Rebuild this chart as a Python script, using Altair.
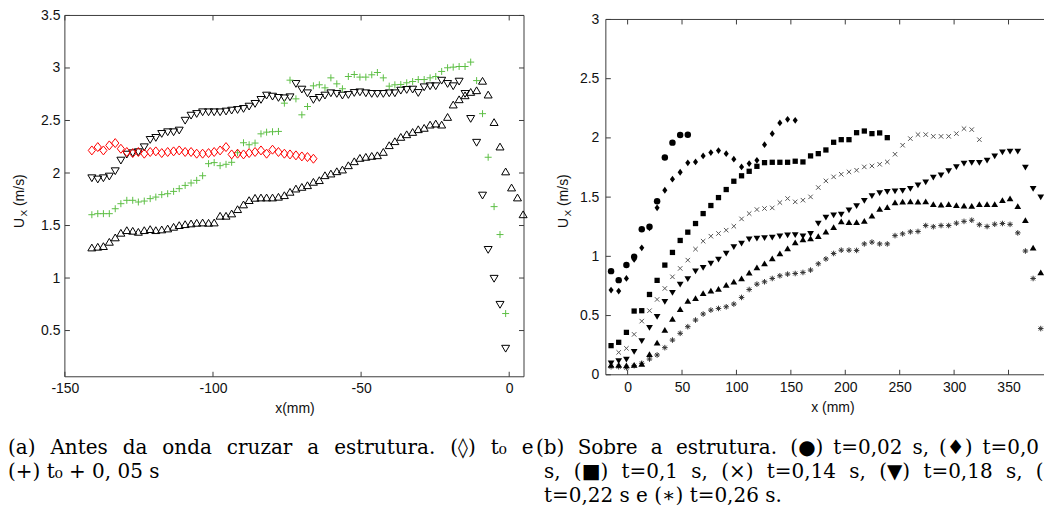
import altair as alt
import pandas as pd

# ---------------- panel (a): before the wave crosses the structure ----------------
X_A = [-140.9, -138.9, -137.0, -135.0, -133.0, -131.1, -129.1, -127.1, -125.2, -123.2,
       -121.2, -119.3, -117.3, -115.3, -113.3, -111.4, -109.4, -107.4, -105.5, -103.5,
       -101.5, -99.6, -97.6, -95.6, -93.7, -91.7, -89.7, -87.8, -85.8, -83.8,
       -81.9, -79.9, -77.9, -75.9, -74.0, -72.0, -70.0, -68.1, -66.1, -64.1,
       -62.2, -60.2, -58.2, -56.3, -54.3, -52.3, -50.4, -48.4, -46.4, -44.5,
       -42.5, -40.5, -38.6, -36.6, -34.6, -32.6, -30.7, -28.7, -26.7, -24.8,
       -22.8, -20.8, -18.9, -16.9, -14.9, -13.0, -11.0, -9.0, -7.1, -5.1,
       -3.1, -1.2, 0.8, 2.8, 4.7]

# (diamond) t0
A_T0 = [2.215, 2.247, 2.215, 2.263, 2.285, 2.231, 2.2, 2.19, 2.2, 2.184,
        2.2, 2.206, 2.19, 2.2, 2.206, 2.215, 2.2, 2.2, 2.184, 2.184,
        2.19, 2.2, 2.215, 2.247, 2.177, 2.184, 2.177, 2.19, 2.2, 2.215,
        2.184, 2.222, 2.2, 2.184, 2.177, 2.168, 2.158, 2.152, 2.136]

# (+) t0 + 0,05 s
A_T0_05 = [1.603, 1.613, 1.613, 1.613, 1.66, 1.708, 1.74, 1.74, 1.724, 1.733,
           1.756, 1.771, 1.794, 1.803, 1.825, 1.851, 1.882, 1.905, 1.93, 1.974,
           2.089, 2.099, 2.07, 2.083, 2.102, 2.193, 2.288, 2.269, 2.285, 2.373,
           2.389, 2.393, 2.396,
           2.665, 2.884, 2.706, 2.554, 2.633, 2.83, 2.84, 2.811, 2.906, 2.849,
           2.802, 2.919, 2.938, 2.913, 2.913, 2.935, 2.957, 2.906, 2.827, 2.84,
           2.843, 2.859, 2.871, 2.89, 2.89, 2.906, 2.919, 2.967, 3.002, 3.008,
           3.014, 3.014, 3.056,
           2.88, 2.565, 2.15, 1.68, 1.414, 0.662]

# open down-triangles
A_DOWN = [1.952, 1.94, 1.952, 1.968, 2.019, 2.12, 2.177, 2.19, 2.2, 2.247,
          2.317, 2.336, 2.374, 2.39, 2.39, 2.406, 2.5, 2.548, 2.564, 2.58,
          2.58, 2.58, 2.58, 2.587, 2.596, 2.602, 2.612, 2.634, 2.66, 2.698,
          2.739, 2.729, 2.717, 2.713, 2.723, 2.85, 2.796, 2.761, 2.698, 2.717,
          2.739, 2.761, 2.755, 2.739, 2.745, 2.764, 2.77, 2.761, 2.755, 2.755,
          2.755, 2.761, 2.761, 2.786, 2.793, 2.796, 2.764, 2.818, 2.828, 2.828,
          2.881, 2.85, 2.828, 2.872, 2.755,
          2.517, 2.29, 1.787, 1.27, 0.995, 0.747, 0.329]

# open up-triangles
A_UP = [1.289, 1.296, 1.302, 1.343, 1.385, 1.429, 1.454, 1.448, 1.438, 1.454,
        1.464, 1.454, 1.461, 1.47, 1.486, 1.502, 1.511, 1.518, 1.524, 1.527,
        1.524, 1.527, 1.591, 1.591, 1.613, 1.654, 1.699, 1.74, 1.762, 1.765,
        1.765, 1.765, 1.772,
        1.787, 1.819, 1.85, 1.866, 1.882, 1.914, 1.93, 1.977, 1.993, 2.015,
        2.031, 2.072, 2.11, 2.142, 2.152, 2.161, 2.167, 2.199, 2.263, 2.301,
        2.342, 2.367, 2.389, 2.415, 2.428, 2.459, 2.469, 2.459, 2.532, 2.65,
        2.7, 2.738, 2.77, 2.786,
        2.876, 2.745, 2.483, 2.25, 2.013, 1.86, 1.765, 1.605]

# ---------------- panel (b): over the structure ----------------
X_B = [-15.2, -8.2, -1.1, 6.0, 13.0, 20.1, 27.1, 34.2, 41.2, 48.3,
       55.3, 62.4, 69.4, 76.5, 83.5, 90.6, 97.6, 104.7, 111.7, 118.8,
       125.8, 132.9, 139.9, 147.0, 154.0, 161.1, 168.1, 175.2, 182.2, 189.3,
       196.3, 203.4, 210.4, 217.5, 224.5, 231.6, 238.6, 245.7, 252.7, 259.8,
       266.8, 273.9, 280.9, 288.0, 295.0, 302.1, 309.1, 316.2, 323.2, 330.3,
       337.3, 344.4, 351.4, 358.5, 365.5, 372.6, 379.6]

B_002 = [0.875, 0.799, 0.926, 0.996, 1.229, 1.249, 1.465, 1.834, 1.960, 2.025, 2.027]
B_006 = [0.715, 0.707, 0.813, 0.974, 1.072, 1.24, 1.41, 1.558, 1.651, 1.71,
         1.79, 1.797, 1.848, 1.876, 1.893, 1.867, 1.82, 1.755, 1.783, 1.811,
         1.943, 2.036, 2.126, 2.157, 2.148]
B_010 = [0.246, 0.274, 0.358, 0.538, 0.541, 0.678, 0.797, 0.926, 1.033, 1.134,
         1.204, 1.277, 1.361, 1.429, 1.496, 1.564, 1.634, 1.68, 1.718, 1.76,
         1.791, 1.794, 1.794, 1.794, 1.803, 1.797, 1.848, 1.867, 1.898, 1.963,
         1.985, 1.985, 2.044, 2.058, 2.036, 2.042, 2.002]
B_014 = [0.189, 0.223, 0.341, 0.453, 0.541, 0.636, 0.729, 0.827, 0.898, 0.968,
         1.061, 1.128, 1.170, 1.193, 1.221, 1.254, 1.316, 1.361, 1.395, 1.404,
         1.409, 1.454, 1.488, 1.460, 1.474, 1.502, 1.581, 1.637, 1.671, 1.693,
         1.713, 1.727, 1.755, 1.763, 1.777, 1.797, 1.862, 1.938, 1.994, 2.028,
         2.028, 2.013, 2.013, 2.013, 2.036, 2.078, 2.07, 1.985]
B_018 = [0.097, 0.116, 0.130, 0.195, 0.285, 0.397, 0.49, 0.617, 0.692, 0.763,
         0.808, 0.875, 0.903, 0.94, 0.974, 1.024, 1.08, 1.108, 1.145, 1.151,
         1.156, 1.159, 1.17, 1.179, 1.18, 1.17, 1.19, 1.277, 1.328, 1.347,
         1.353, 1.39, 1.425, 1.47, 1.51, 1.535, 1.545, 1.55, 1.555, 1.57,
         1.60, 1.625, 1.665, 1.685, 1.72, 1.755, 1.785, 1.79, 1.79, 1.81,
         1.845, 1.88, 1.885, 1.885, 1.75, 1.57, 1.50]
B_022 = [0.083, 0.083, 0.077, 0.083, 0.091, 0.172, 0.271, 0.378, 0.47, 0.552,
         0.622, 0.645, 0.687, 0.709, 0.723, 0.757, 0.785, 0.813, 0.861, 0.906,
         0.94, 0.982, 1.024, 1.066, 1.117, 1.142, 1.151, 1.17, 1.207, 1.246,
         1.294, 1.288, 1.288, 1.298, 1.343, 1.40, 1.415, 1.455, 1.46, 1.462,
         1.46, 1.462, 1.44, 1.435, 1.44, 1.43, 1.426, 1.425, 1.44, 1.44,
         1.44, 1.474, 1.488, 1.423, 1.305, 1.072, 0.864]
B_026 = [0.068, 0.068, 0.06, 0.077, 0.097, 0.133, 0.167, 0.229, 0.293, 0.35,
         0.406, 0.462, 0.513, 0.546, 0.56, 0.574, 0.597, 0.653, 0.72, 0.765,
         0.785, 0.813, 0.836, 0.85, 0.855, 0.864, 0.884, 0.937, 0.978, 1.024,
         1.052, 1.052, 1.05, 1.105, 1.12, 1.105, 1.105, 1.175, 1.19, 1.207,
         1.21, 1.26, 1.25, 1.26, 1.26, 1.28, 1.295, 1.305, 1.267, 1.252,
         1.271, 1.277, 1.27, 1.198, 1.045, 0.813, 0.39]

A_XTICKS = [-150, -100, -50, 0]
A_YTICKS = [0.5, 1, 1.5, 2, 2.5, 3, 3.5]
B_XTICKS = [0, 50, 100, 150, 200, 250, 300, 350]
B_YTICKS = [0, 0.5, 1, 1.5, 2, 2.5, 3]

# captions (panel (b) lines are cut at the page edge, as in the source figure)
CAP_A = ["(a) Antes da onda cruzar a estrutura. (\u25ca) t\u2080 e",
         "(+) t\u2080 + 0, 05 s"]
CAP_B = ["(b) Sobre a estrutura. (\u25cf) t=0,02 s, (\u2666) t=0,0",
         "s, (\u25a0) t=0,1 s, (\u00d7) t=0,14 s, (\u25bc) t=0,18 s, (",
         "t=0,22 s e (\u2217) t=0,26 s."]

# ---------------- styling ----------------
FONT = "Liberation Sans"
SERIF = "DejaVu Serif"
FRAME = "#3c3c3c"
W_A, H_A = 460, 362
W_B, H_B = 439, 360
B_VISIBLE_END = 382.6    # panel (b) is cut by the page edge here (full axis runs to 390)
CAP_Y = [433, 457, 481]  # caption baselines (panel-relative)

DOWN = "M-1,-0.8L1,-0.8L0,0.9Z"
UP = "M-1,0.8L1,0.8L0,-0.9Z"
DIAM_O = "M0,-1L0.8,0L0,1L-0.8,0Z"
DIAM_F = "M0,-1L0.75,0L0,1L-0.75,0Z"
PLUS = "M-1,0L1,0M0,-1L0,1"
XMARK = "M-1,-1L1,1M-1,1L1,-1"
STAR = "M-1,0L1,0M0,-1L0,1M-0.7,-0.7L0.7,0.7M-0.7,0.7L0.7,-0.7"

EN, SIXTH = "\u2002", "\u2006"
DUMMY = pd.DataFrame({"a": [0]})


def justify(s, n_wide, wide, narrow):
    """Join the words of a justified caption line with widened spaces."""
    words = s.split(" ")
    out = words[0]
    for i, w in enumerate(words[1:]):
        out += (wide if i < n_wide else narrow) + w
    return out


def axes(xticks, yticks, xtitle, xlabpad, ylabpad, tpad, title_x=None):
    common = dict(ticks=False, tickSize=0, domain=False, grid=False,
                  labelFont=FONT, labelFontSize=14, labelColor="#111",
                  labelExpr="toString(datum.value)", labelFlush=False,
                  labelOverlap=False)
    extra = {} if title_x is None else {"titleX": title_x}
    xa = alt.Axis(values=xticks, labelPadding=xlabpad, title=xtitle, titleFont=FONT,
                  titleFontSize=14, titleFontWeight="normal", titleColor="#111",
                  titlePadding=tpad, **extra, **common)
    ya = alt.Axis(values=yticks, labelPadding=ylabpad, title=None, **common)
    return xa, ya


class Panel:
    def __init__(self, xdom, ydom, sx, sy, xa, ya, cut=False):
        self.xdom, self.ydom, self.sx, self.sy = xdom, ydom, sx, sy
        self.xa, self.ya, self.cut = xa, ya, cut

    def X(self, f):
        return alt.X(f, scale=self.sx, axis=self.xa)

    def Y(self, f):
        return alt.Y(f, scale=self.sy, axis=self.ya)

    def series(self, xs, ys, start, shape, size, color, filled, sw=1.0):
        df = pd.DataFrame({"x": xs[start:start + len(ys)], "y": ys})
        kw = dict(shape=shape, size=size, filled=filled, opacity=1, strokeWidth=sw)
        if filled:
            kw["fill"] = color
            kw["strokeWidth"] = 0
        else:
            kw["stroke"] = color
        return alt.Chart(df).mark_point(**kw).encode(x=self.X("x:Q"), y=self.Y("y:Q"))

    def frame(self):
        xd, yd = self.xdom, self.ydom
        xs, x2s = [xd[0], xd[0], xd[0]], [xd[1], xd[1], xd[0]]
        ys, y2s = [yd[0], yd[1], yd[0]], [yd[0], yd[1], yd[1]]
        if not self.cut:
            xs.append(xd[1]); x2s.append(xd[1]); ys.append(yd[0]); y2s.append(yd[1])
        df = pd.DataFrame({"x": xs, "x2": x2s, "y": ys, "y2": y2s})
        return alt.Chart(df).mark_rule(color=FRAME, strokeWidth=1).encode(
            x=self.X("x:Q"), x2="x2:Q", y=self.Y("y:Q"), y2="y2:Q")

    def ticks(self, xticks, yticks, L=5):
        bx = pd.DataFrame({"v": xticks, "lo": self.ydom[0], "hi": self.ydom[1]})
        by = pd.DataFrame({"v": yticks, "lo": self.xdom[0], "hi": self.xdom[1]})
        out = []
        for col, off in (("lo", -L), ("hi", L)):
            out.append(alt.Chart(bx).mark_rule(color=FRAME, y2Offset=off).encode(
                x=self.X("v:Q"), y=self.Y(f"{col}:Q"), y2=f"{col}:Q"))
        sides = (("lo", L),) if self.cut else (("lo", L), ("hi", -L))
        for col, off in sides:
            out.append(alt.Chart(by).mark_rule(color=FRAME, x2Offset=off).encode(
                y=self.Y("v:Q"), x=self.X(f"{col}:Q"), x2=f"{col}:Q"))
        return out


def text(t, x, y, size=14, font=FONT, angle=0, align="center", color="#111"):
    return alt.Chart(DUMMY).mark_text(
        text=t, font=font, fontSize=size, angle=angle, align=align,
        baseline="middle", color=color).encode(x=alt.value(x), y=alt.value(y))


def ytitle(x0):
    return [text("U", x0, 208, angle=270),
            text("X", x0 + 4, 198, size=10, angle=270),
            text("(m/s)", x0, 175, angle=270)]


# ---------------- panel (a) ----------------
ADX, ADY = [-150, 5], [0.06, 3.5]
pa = Panel(ADX, ADY,
           alt.Scale(domain=ADX, nice=False, zero=False),
           alt.Scale(domain=ADY, nice=False, zero=False),
           *axes(A_XTICKS, A_YTICKS, "x(mm)", 5, 5, 6))
left = alt.layer(
    pa.frame(),
    *pa.ticks(A_XTICKS, A_YTICKS),
    pa.series(X_A, A_UP, 0, UP, 64, "#000", False),
    pa.series(X_A, A_DOWN, 0, DOWN, 64, "#000", False),
    pa.series(X_A, A_T0_05, 0, PLUS, 49, "#5dbf45", False),
    pa.series(X_A, A_T0, 0, DIAM_O, 81, "#ff0000", False),
    *ytitle(-45),
    text(justify(CAP_A[0], 9, EN + "\u2005", EN), -57, CAP_Y[0], size=20, font=SERIF, align="left", color="#000"),
    text(CAP_A[1], -57, CAP_Y[1], size=20, font=SERIF, align="left", color="#000"),
).properties(width=W_A, height=H_A)

# ---------------- panel (b) ----------------
BDX, BDY = [-20, B_VISIBLE_END], [0, 3]
pb = Panel(BDX, BDY,
           alt.Scale(domain=BDX, nice=False, zero=False),
           alt.Scale(domain=BDY, nice=False, zero=False, range=[360, 4]),
           *axes(B_XTICKS, B_YTICKS, "x (mm)", 6, 7, 6, title_x=227), cut=True)
right = alt.layer(
    pb.frame(),
    *pb.ticks(B_XTICKS, B_YTICKS),
    pb.series(X_B, B_026, 0, STAR, 31, "#333", False),
    pb.series(X_B, B_022, 0, UP, 46, "#000", True),
    pb.series(X_B, B_018, 0, DOWN, 46, "#000", True),
    pb.series(X_B, B_014, 1, XMARK, 20, "#555", False),
    pb.series(X_B, B_010, 0, "square", 28, "#000", True),
    pb.series(X_B, B_006, 0, DIAM_F, 46, "#000", True),
    pb.series(X_B, B_002, 0, "circle", 42, "#000", True),
    *ytitle(-42),
    text(justify(CAP_B[0], 4, EN + SIXTH, EN), -70, CAP_Y[0], size=20, font=SERIF, align="left", color="#000"),
    text(justify(CAP_B[1], 10, EN + SIXTH, EN), -62, CAP_Y[1], size=20, font=SERIF, align="left", color="#000"),
    text(CAP_B[2], -62, CAP_Y[2], size=20, font=SERIF, align="left", color="#000"),
).properties(width=W_B, height=H_B)

chart = alt.hconcat(left, right, spacing=82, bounds="flush").properties(
    padding=0
).configure_view(stroke=None)

chart.save("out.html", embed_options={"renderer": "svg", "actions": False})
